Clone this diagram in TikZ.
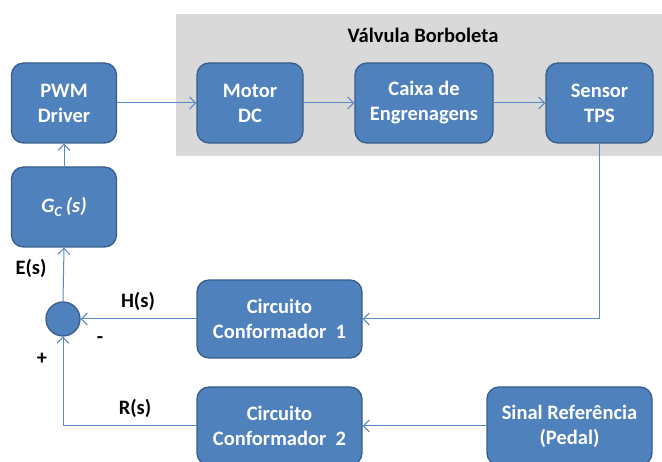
\documentclass[tikz,border=0pt]{standalone}
\usepackage{fontspec}
\setmainfont{Carlito}
\usetikzlibrary{arrows.meta}
\definecolor{boxfill}{HTML}{4F81BD}
\definecolor{boxedge}{HTML}{385D8A}
\definecolor{linec}{HTML}{5B87C2}
\definecolor{graybg}{HTML}{D9D9D9}
\tikzset{
  blk/.style={rectangle, rounded corners=12pt, fill=boxfill, draw=boxedge, line width=1.3pt,
    text=white, font=\fontsize{20.5}{25}\selectfont\bfseries, align=center, inner sep=0pt,
    minimum height=80pt},
  lbl/.style={text=black, font=\fontsize{20.5}{25}\selectfont\bfseries, inner sep=0pt},
  conn/.style={draw=linec, line width=1pt, -{Straight Barb[length=6pt,width=12pt]}},
  plain/.style={draw=linec, line width=1pt}
}
\begin{document}
\begin{tikzpicture}[x=1pt,y=-1pt]
\useasboundingbox (0,0) rectangle (662,462);
\clip (0,0) rectangle (662,462);
\fill[graybg] (176,14) rectangle (670,156);
\node[lbl] (title) at (423,35) {Válvula Borboleta};
\node[blk, minimum width=105pt] (pwm) at (64,103) {PWM\\Driver};
\node[blk, minimum width=105pt] (gc) at (64,207) {\itshape G\textsubscript{C}\,(s)};
\node[blk, minimum width=106pt] (motor) at (250,103) {Motor\\DC};
\node[blk, minimum width=138pt] (caixa) at (424,103) {Caixa de\\Engrenagens};
\node[blk, minimum width=107pt] (sensor) at (599.5,103) {Sensor\\TPS};
\node[blk, minimum width=165pt, minimum height=78pt] (c1) at (279.5,319) {Circuito\\Conformador\ \ 1};
\node[blk, minimum width=165pt, minimum height=78pt] (c2) at (279.5,426) {Circuito\\Conformador\ \ 2};
\node[blk, minimum width=165pt, minimum height=78pt] (sinal) at (569.5,426) {Sinal Referência\\(Pedal)};
\node[circle, fill=boxfill, draw=boxedge, line width=1.3pt, minimum size=34pt, inner sep=0pt] (sum) at (63,319) {};
\node[lbl] (es) at (31,268) {E(s)};
\node[lbl] (hs) at (138,301) {H(s)};
\node[lbl] (minus) at (100,340) {-};
\node[lbl] (plus) at (42,359) {+};
\node[lbl] (rs) at (135,408) {R(s)};
\draw[conn] (pwm.east) -- (motor.west);
\draw[conn] (motor.east) -- (caixa.west);
\draw[conn] (caixa.east) -- (sensor.west);
\draw[conn] (sensor.south) |- (c1.east);
\draw[conn] (c1.west) -- (sum.east);
\draw[conn] (sinal.west) -- (c2.east);
\draw[conn] (c2.west) -| (sum.south);
\draw[conn] (sum.north) -- (gc.south);
\draw[conn] (gc.north) -- (pwm.south);
\end{tikzpicture}
\end{document}
